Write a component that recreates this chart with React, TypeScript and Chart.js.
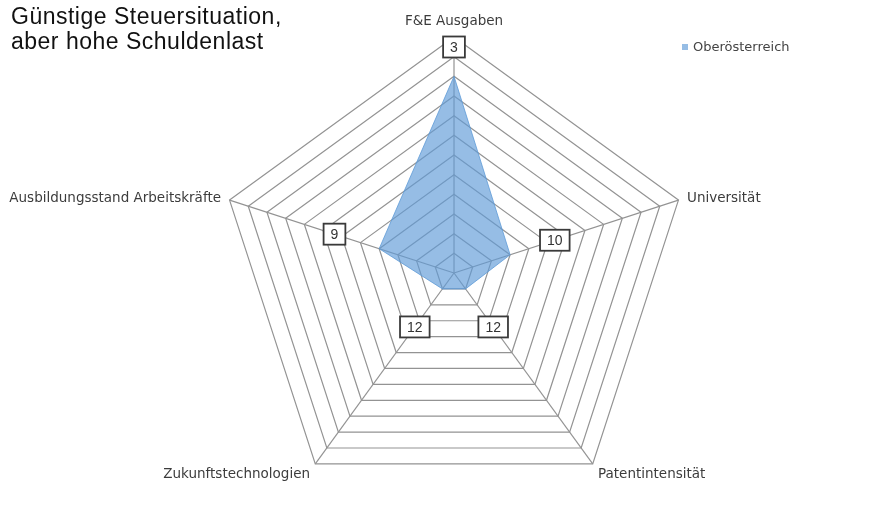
import React, { useEffect, useRef } from "react";
import { Chart, registerables } from "chart.js";

Chart.register(...registerables);

// Ranking of Oberösterreich across five innovation criteria (1 = best)
const categories = [
  "F&E Ausgaben",
  "Universität",
  "Patentintensität",
  "Zukunftstechnologien",
  "Ausbildungsstand Arbeitskräfte",
];
const seriesLabel = "Oberösterreich";
const ranks = [3, 10, 12, 12, 9];
const rankBest = 1;
const rankWorst = 13;
const titleLines = ["Günstige Steuersituation,", "aber hohe Schuldenlast"];

// Layout of the radar web on the canvas
const CENTER_X = 454;
const CENTER_Y = 273;
const RADIUS = 236;

const FILL = "rgba(95,155,215,0.66)";
const LINE = "#939393";

const overlayPlugin = {
  id: "overlay",
  afterDatasetsDraw(chart: any) {
    const scale = chart.scales.r;
    const ctx: CanvasRenderingContext2D = chart.ctx;
    ctx.save();

    // axis (category) labels around the web
    ctx.font = "13.5px 'DejaVu Sans'";
    ctx.fillStyle = "#3c3c3c";
    categories.forEach((label, i) => {
      const deg = (scale.getIndexAngle(i) * 180) / Math.PI;
      const p = scale.getPointPosition(i, scale.drawingArea + 9);
      let align: CanvasTextAlign = "center";
      if (deg > 5 && deg < 175) align = "left";
      else if (deg > 185 && deg < 355) align = "right";
      let y = p.y;
      let baseline: CanvasTextBaseline = "middle";
      if (deg < 45 || deg > 315) {
        baseline = "bottom";
      } else if (deg > 120 && deg < 240) {
        y = p.y + 3;
      } else {
        y = p.y + 1.5;
      }
      ctx.textAlign = align;
      ctx.textBaseline = baseline;
      ctx.fillText(label, p.x, y);
    });

    // boxed rank values
    ctx.font = "14px 'Liberation Sans', Arial, sans-serif";
    ranks.forEach((v, i) => {
      const r = Math.min(
        scale.getDistanceFromCenterForValue(v) + 47,
        scale.drawingArea - 10
      );
      const p = scale.getPointPosition(i, r);
      const text = String(v);
      const w = ctx.measureText(text).width + 14;
      const h = 21;
      ctx.fillStyle = "#ffffff";
      ctx.fillRect(p.x - w / 2, p.y - h / 2, w, h);
      ctx.lineWidth = 1.8;
      ctx.strokeStyle = "#3a3a3a";
      ctx.strokeRect(p.x - w / 2, p.y - h / 2, w, h);
      ctx.fillStyle = "#333333";
      ctx.textAlign = "center";
      ctx.textBaseline = "middle";
      ctx.fillText(text, p.x, p.y + 1);
    });

    // legend
    ctx.fillStyle = FILL;
    ctx.fillRect(682, 44, 6, 6);
    ctx.font = "13px 'DejaVu Sans'";
    ctx.fillStyle = "#444444";
    ctx.textAlign = "left";
    ctx.textBaseline = "middle";
    ctx.fillText(seriesLabel, 693, 48);

    ctx.restore();
  },
};

export default function App() {
  const canvasRef = useRef<HTMLCanvasElement | null>(null);

  useEffect(() => {
    if (!canvasRef.current) return;
    const chart = new Chart(canvasRef.current, {
      type: "radar",
      data: {
        labels: categories,
        datasets: [
          {
            label: seriesLabel,
            data: ranks,
            backgroundColor: FILL,
            borderColor: "rgba(95,155,215,0.8)",
            borderWidth: 1,
            pointRadius: 0,
            // fill towards the centre of the reversed rank scale
            fill: "start",
          },
        ],
      },
      options: {
        animation: false,
        responsive: false,
        maintainAspectRatio: false,
        layout: { padding: 0 },
        plugins: {
          legend: { display: false },
          tooltip: { enabled: false },
          title: { display: false },
        },
        scales: {
          r: {
            reverse: true,
            min: rankBest,
            max: rankWorst,
            ticks: { display: false, stepSize: 1 },
            grid: { color: LINE, lineWidth: 1.2 },
            angleLines: { color: LINE, lineWidth: 1.2 },
            pointLabels: { display: false },
            afterFit: (scale: any) => {
              scale.xCenter = CENTER_X;
              scale.yCenter = CENTER_Y;
              scale.drawingArea = RADIUS;
            },
          },
        },
      },
      plugins: [overlayPlugin],
    });
    return () => chart.destroy();
  }, []);

  return (
    <div
      style={{
        position: "fixed",
        left: 0,
        top: 0,
        width: 896,
        height: 508,
        background: "#ffffff",
        overflow: "hidden",
      }}
    >
      <canvas ref={canvasRef} width={896} height={508} style={{ display: "block" }} />
      <div
        style={{
          position: "absolute",
          left: 11,
          top: 4,
          fontFamily: "'Liberation Sans', Arial, sans-serif",
          fontSize: 23,
          lineHeight: "25px",
          letterSpacing: "0.5px",
          color: "#111111",
        }}
      >
        {titleLines.map((line) => (
          <div key={line}>{line}</div>
        ))}
      </div>
    </div>
  );
}
